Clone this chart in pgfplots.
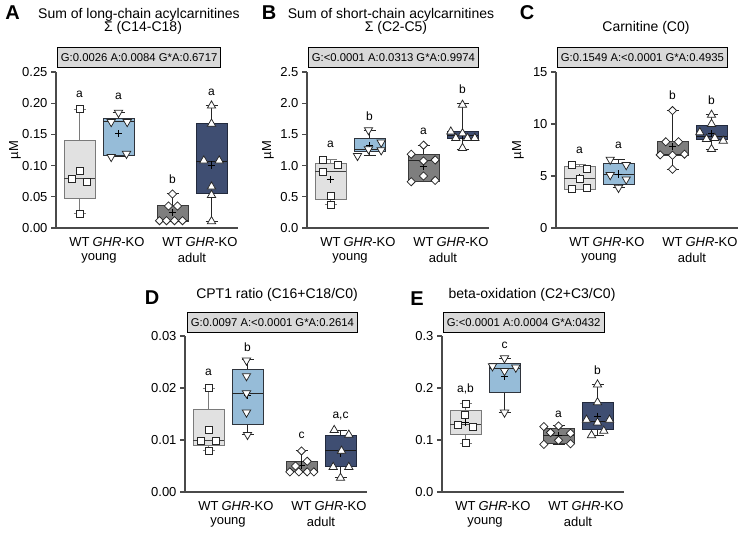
\documentclass[border=0pt]{standalone}
\usepackage{fontspec}
\setmainfont{Liberation Sans}
\usepackage{pgfplots}
\pgfplotsset{compat=1.18}

\definecolor{wtyfill}{HTML}{E1E1E1}
\definecolor{wtyedge}{HTML}{7A7A7A}
\definecolor{gyfill}{HTML}{96BCD8}
\definecolor{gyedge}{HTML}{2F343C}
\definecolor{wtafill}{HTML}{7E7E7E}
\definecolor{wtaedge}{HTML}{3A3A3A}
\definecolor{gafill}{HTML}{3F4E72}
\definecolor{gaedge}{HTML}{222A3D}
\definecolor{statfill}{HTML}{D9D9D9}
\definecolor{axgray}{HTML}{4A4A4A}

\newcommand{\ticksize}{\fontsize{13}{15}\selectfont}
\newcommand{\titlesize}{\fontsize{14}{16}\selectfont}
\newcommand{\statsize}{\fontsize{11.3}{13}\selectfont}
\newcommand{\lettersize}{\fontsize{12}{14}\selectfont}
\newcommand{\panelsize}{\fontsize{20}{22}\selectfont\bfseries}

\pgfplotsset{
  panel/.style={
    width=182pt, height=156pt, scale only axis,
    anchor=south west,
    xmin=0, xmax=182, ymin=0,
    axis x line=bottom, axis y line=left,
    axis line style={-, draw=axgray, line width=1.1pt},
    xtick={23.5,62.5,116.5,155.5},
    xticklabels={WT,\textit{GHR}-KO,WT,\textit{GHR}-KO},
    major x tick style={draw=none},
    xticklabel style={yshift=-1pt},
    tick align=outside,
    major tick length=5pt,
    major y tick style={draw=axgray, line width=1.1pt},
    tick label style={font=\ticksize},
    scaled y ticks=false,
    /pgf/number format/assume math mode=true,
    clip=false,
  },
  dec2/.style={yticklabel style={/pgf/number format/fixed,
    /pgf/number format/fixed zerofill, /pgf/number format/precision=2}},
  dec1/.style={yticklabel style={/pgf/number format/fixed,
    /pgf/number format/fixed zerofill, /pgf/number format/precision=1}},
  % box, whisker and median styles of the four groups
  wty box/.style={draw=wtyedge, fill=wtyfill, line width=1pt},
  wty whisk/.style={draw=wtyedge, line width=1pt},
  wty med/.style={draw=black!75, line width=1pt},
  gy box/.style={draw=gyedge, fill=gyfill, line width=1pt},
  gy whisk/.style={draw=black!85, line width=1pt},
  gy med/.style={draw=black!85, line width=1pt},
  wta box/.style={draw=wtaedge, fill=wtafill, line width=1pt},
  wta whisk/.style={draw=black!85, line width=1pt},
  wta med/.style={draw=black!85, line width=1pt},
  ga box/.style={draw=gaedge, fill=gafill, line width=1pt},
  ga whisk/.style={draw=black!85, line width=1pt},
  ga med/.style={draw=black!90, line width=1pt},
  ptsq/.style={only marks, mark=square*, mark size=3.5pt,
    mark options={fill=white, draw=black!85, line width=0.75pt}},
  ptdown/.style={only marks, mark=triangle*, mark size=4.8pt,
    mark options={rotate=180, fill=white, draw=black!85, line width=0.75pt}},
  ptdia/.style={only marks, mark=square*, mark size=2.9pt,
    mark options={rotate=45, fill=white, draw=black!85, line width=0.75pt}},
  ptup/.style={only marks, mark=triangle*, mark size=4.8pt,
    mark options={fill=white, draw=black!85, line width=0.75pt}},
  meanpt/.style={only marks, mark=+, mark size=3.6pt,
    mark options={draw=black, line width=0.8pt}},
}

% One box with whiskers: #1 group style, #2 lower whisker, #3 lower quartile,
% #4 median, #5 upper quartile, #6 upper whisker.  One macro per slot.
\newcommand{\boxone}[6]{%
  \addplot[#1 whisk, unbounded coords=jump] coordinates {(17.5,#6) (29.5,#6) (23.5,nan) (23.5,#6) (23.5,#5) (23.5,nan) (23.5,#3) (23.5,#2) (23.5,nan) (17.5,#2) (29.5,#2)};
  \addplot[#1 box] coordinates {(8,#3) (39,#3) (39,#5) (8,#5)} --cycle;
  \addplot[#1 med] coordinates {(8,#4) (39,#4)};
}
\newcommand{\boxtwo}[6]{%
  \addplot[#1 whisk, unbounded coords=jump] coordinates {(56.5,#6) (68.5,#6) (62.5,nan) (62.5,#6) (62.5,#5) (62.5,nan) (62.5,#3) (62.5,#2) (62.5,nan) (56.5,#2) (68.5,#2)};
  \addplot[#1 box] coordinates {(47,#3) (78,#3) (78,#5) (47,#5)} --cycle;
  \addplot[#1 med] coordinates {(47,#4) (78,#4)};
}
\newcommand{\boxthree}[6]{%
  \addplot[#1 whisk, unbounded coords=jump] coordinates {(110.5,#6) (122.5,#6) (116.5,nan) (116.5,#6) (116.5,#5) (116.5,nan) (116.5,#3) (116.5,#2) (116.5,nan) (110.5,#2) (122.5,#2)};
  \addplot[#1 box] coordinates {(101,#3) (132,#3) (132,#5) (101,#5)} --cycle;
  \addplot[#1 med] coordinates {(101,#4) (132,#4)};
}
\newcommand{\boxfour}[6]{%
  \addplot[#1 whisk, unbounded coords=jump] coordinates {(149.5,#6) (161.5,#6) (155.5,nan) (155.5,#6) (155.5,#5) (155.5,nan) (155.5,#3) (155.5,#2) (155.5,nan) (149.5,#2) (161.5,#2)};
  \addplot[#1 box] coordinates {(140,#3) (171,#3) (171,#5) (140,#5)} --cycle;
  \addplot[#1 med] coordinates {(140,#4) (171,#4)};
}

\begin{document}
\begin{tikzpicture}
\path[use as bounding box] (0,0) rectangle (738pt,533pt);

% ---------------- Panel A ----------------
\begin{axis}[panel, dec2, at={(56pt,305pt)}, ymax=0.25,
  ytick={0,0.05,0.10,0.15,0.20,0.25}]
\boxone{wty}{0.023}{0.048}{0.080}{0.1405}{0.1907}
\boxtwo{gy}{0.114}{0.1165}{0.170}{0.1758}{0.1848}
\boxthree{wta}{0.0112}{0.0112}{0.012}{0.0353}{0.0545}
\boxfour{ga}{0.0107}{0.0545}{0.1063}{0.1667}{0.196}
\addplot[meanpt] coordinates {(23.5,0.0916) (62.5,0.151) (116.5,0.0246) (155.5,0.101)};
\addplot[ptsq] coordinates {(23.5,0.1907) (23.5,0.0919) (15.8,0.0785) (30.8,0.0737) (23.5,0.023)};
\addplot[ptdown] coordinates {(62.5,0.1848) (55.2,0.170) (71.2,0.170) (55.2,0.114) (70.5,0.119)};
\addplot[ptdia] coordinates {(116.5,0.0545) (112.5,0.0353) (121.5,0.0353) (103.5,0.0118) (110.5,0.0118) (118.5,0.0118) (126.5,0.0118)};
\addplot[ptup] coordinates {(155.5,0.196) (155.5,0.167) (147.8,0.108) (163.2,0.108) (155.5,0.0662) (155.5,0.0528) (155.5,0.0107)};
\node[font=\lettersize] at (axis cs:23.5,0.2147) {a};
\node[font=\lettersize] at (axis cs:62.5,0.2115) {a};
\node[font=\lettersize] at (axis cs:116.5,0.0785) {b};
\node[font=\lettersize] at (axis cs:155.5,0.218) {a};
\node[font=\ticksize, yshift=-30pt] at (axis cs:43,0) {young};
\node[font=\ticksize, yshift=-30pt] at (axis cs:136,0) {adult};
\node[font=\ticksize, rotate=90] at (axis description cs:-0.225,0.5) {µM};
\end{axis}

% ---------------- Panel B ----------------
\begin{axis}[panel, dec1, at={(307pt,305pt)}, ymax=2.5,
  ytick={0,0.5,1.0,1.5,2.0,2.5}]
\boxone{wty}{0.376}{0.457}{0.898}{1.038}{1.091}
\boxtwo{gy}{1.156}{1.226}{1.263}{1.441}{1.57}
\boxthree{wta}{0.742}{0.742}{1.075}{1.172}{1.328}
\boxfour{ga}{1.263}{1.435}{1.478}{1.543}{1.989}
\addplot[meanpt] coordinates {(23.5,0.78) (62.5,1.32) (116.5,0.98) (155.5,1.49)};
\addplot[ptsq] coordinates {(15.5,1.091) (30.5,1.011) (15.5,0.903) (23.5,0.511) (23.5,0.376)};
\addplot[ptdown] coordinates {(61.5,1.57) (74.2,1.371) (61.5,1.263) (74.2,1.247) (50.5,1.156)};
\addplot[ptdia] coordinates {(116.5,1.328) (104.2,1.183) (116.5,1.075) (128.2,1.091) (116.5,0.833) (104.2,0.742) (128.2,0.763)};
\addplot[ptup] coordinates {(155.5,1.973) (143.8,1.543) (155.5,1.516) (148.8,1.441) (160.5,1.441) (167.8,1.441) (155.5,1.28)};
\node[font=\lettersize] at (axis cs:23.5,1.344) {a};
\node[font=\lettersize] at (axis cs:62.5,1.785) {b};
\node[font=\lettersize] at (axis cs:116.5,1.548) {a};
\node[font=\lettersize] at (axis cs:155.5,2.231) {b};
\node[font=\ticksize, yshift=-30pt] at (axis cs:43,0) {young};
\node[font=\ticksize, yshift=-30pt] at (axis cs:136,0) {adult};
\node[font=\ticksize, rotate=90] at (axis description cs:-0.214,0.5) {µM};
\end{axis}

% ---------------- Panel C ----------------
\begin{axis}[panel, at={(556pt,305pt)}, ymax=15,
  ytick={0,5,10,15}]
\boxone{wty}{3.74}{3.74}{4.75}{5.87}{6.06}
\boxtwo{gy}{3.87}{4.19}{5.16}{6.23}{6.58}
\boxthree{wta}{5.65}{6.94}{7.1}{8.29}{11.29}
\boxfour{ga}{7.58}{8.48}{8.77}{9.9}{10.87}
\addplot[meanpt] coordinates {(23.5,4.83) (62.5,5.2) (116.5,7.81) (155.5,9.05)};
\addplot[ptsq] coordinates {(15.8,6.06) (30.8,5.71) (23.5,4.75) (15.8,3.74) (30.8,3.87)};
\addplot[ptdown] coordinates {(54.2,6.58) (70.2,6.06) (54.2,5.1) (70.2,4.68) (62.5,3.87)};
\addplot[ptdia] coordinates {(116.5,11.29) (109.8,8.29) (122.5,8.29) (104.2,7.03) (116.5,7.0) (128.5,7.1) (116.5,5.65)};
\addplot[ptup] coordinates {(155.5,10.87) (155.5,10.0) (143.8,9.19) (150.5,8.55) (158.8,8.65) (167.2,8.39) (155.5,7.58)};
\node[font=\lettersize] at (axis cs:23.5,7.48) {a};
\node[font=\lettersize] at (axis cs:62.5,7.97) {a};
\node[font=\lettersize] at (axis cs:116.5,12.74) {b};
\node[font=\lettersize] at (axis cs:155.5,12.26) {b};
\node[font=\ticksize, yshift=-30pt] at (axis cs:43,0) {young};
\node[font=\ticksize, yshift=-30pt] at (axis cs:136,0) {adult};
\node[font=\ticksize, rotate=90] at (axis description cs:-0.209,0.5) {µM};
\end{axis}

% ---------------- Panel D ----------------
\begin{axis}[panel, dec2, at={(185pt,41pt)}, ymax=0.03,
  ytick={0,0.01,0.02,0.03}]
\boxone{wty}{0.0079}{0.00903}{0.00994}{0.0159}{0.020}
\boxtwo{gy}{0.011}{0.013}{0.019}{0.0235}{0.0254}
\boxthree{wta}{0.00387}{0.00387}{0.0040}{0.00587}{0.0079}
\boxfour{ga}{0.0027}{0.00497}{0.0079}{0.0108}{0.0119}
\addplot[meanpt] coordinates {(23.5,0.0119) (62.5,0.0185) (116.5,0.0052) (155.5,0.0075)};
\addplot[ptsq] coordinates {(23.5,0.020) (23.5,0.0119) (15.8,0.0099) (30.8,0.0099) (23.5,0.0079)};
\addplot[ptdown] coordinates {(61.5,0.0253) (61.5,0.0223) (61.5,0.019) (61.5,0.0153) (62.5,0.011)};
\addplot[ptdia] coordinates {(116.5,0.0079) (122.2,0.0059) (110.5,0.0050) (104.8,0.00387) (113.8,0.00387) (122.2,0.00387) (128.8,0.00387)};
\addplot[ptup] coordinates {(149.2,0.0119) (163.8,0.011) (156.5,0.0079) (148.2,0.0048) (163.8,0.0048) (155.5,0.0027)};
\node[font=\lettersize] at (axis cs:23.5,0.0230) {a};
\node[font=\lettersize] at (axis cs:62.5,0.0279) {b};
\node[font=\lettersize] at (axis cs:116.5,0.0109) {c};
\node[font=\lettersize] at (axis cs:155.5,0.01465) {a,c};
\node[font=\ticksize, yshift=-30pt] at (axis cs:43,0) {young};
\node[font=\ticksize, yshift=-30pt] at (axis cs:136,0) {adult};
\end{axis}

% ---------------- Panel E ----------------
\begin{axis}[panel, dec1, at={(442pt,41pt)}, ymax=0.3,
  ytick={0,0.1,0.2,0.3}]
\boxone{wty}{0.0942}{0.111}{0.129}{0.1574}{0.1697}
\boxtwo{gy}{0.1529}{0.1916}{0.238}{0.2471}{0.2574}
\boxthree{wta}{0.0916}{0.0935}{0.108}{0.122}{0.1271}
\boxfour{ga}{0.109}{0.1194}{0.1361}{0.1723}{0.2065}
\addplot[meanpt] coordinates {(23.5,0.133) (62.5,0.2226) (116.5,0.109) (155.5,0.1458)};
\addplot[ptsq] coordinates {(23.5,0.1697) (22.8,0.1477) (15.5,0.129) (30.5,0.1245) (23.5,0.0942)};
\addplot[ptdown] coordinates {(62.5,0.2574) (50.5,0.242) (73.8,0.2394) (62.5,0.2329) (62.5,0.1529)};
\addplot[ptdia] coordinates {(101.8,0.1258) (116.5,0.1271) (108.5,0.1142) (128.5,0.1129) (116.5,0.0994) (101.8,0.0916) (128.5,0.0929)};
\addplot[ptup] coordinates {(155.5,0.2065) (155.5,0.1723) (144.5,0.1387) (155.5,0.1335) (167.5,0.1387) (161.8,0.1174) (149.5,0.109)};
\node[font=\lettersize] at (axis cs:23.5,0.198) {a,b};
\node[font=\lettersize] at (axis cs:62.5,0.282) {c};
\node[font=\lettersize] at (axis cs:116.5,0.1497) {a};
\node[font=\lettersize] at (axis cs:155.5,0.2335) {b};
\node[font=\ticksize, yshift=-30pt] at (axis cs:43,0) {young};
\node[font=\ticksize, yshift=-30pt] at (axis cs:136,0) {adult};
\end{axis}

% ---------------- Test result boxes ----------------
\tikzset{statbox/.style={draw=black, line width=0.8pt, fill=statfill, anchor=south west,
  font=\statsize, inner xsep=3.5pt, minimum height=20pt}}
\node[statbox] at (57pt,465pt) {G:0.0026 A:0.0084 G*A:0.6717};
\node[statbox] at (308pt,465pt) {G:<0.0001 A:0.0313 G*A:0.9974};
\node[statbox] at (557pt,465pt) {G:0.1549 A:<0.0001 G*A:0.4935};
\node[statbox] at (187pt,200pt) {G:0.0097 A:<0.0001 G*A:0.2614};
\node[statbox] at (443pt,200pt) {G:<0.0001 A:0.0004 G*A:0432};

% ---------------- Panel letters and titles ----------------
\node[font=\panelsize] at (12.5pt,520pt) {A};
\node[font=\panelsize] at (269pt,520pt) {B};
\node[font=\panelsize] at (527pt,520pt) {C};
\node[font=\panelsize] at (152pt,235pt) {D};
\node[font=\panelsize] at (417pt,234pt) {E};

\node[font=\titlesize] at (139pt,518pt) {Sum of long-chain acylcarnitines};
\node[font=\titlesize] at (143pt,505pt) {Σ (C14-C18)};
\node[font=\titlesize] at (391pt,518pt) {Sum of short-chain acylcarnitines};
\node[font=\titlesize] at (396pt,505pt) {Σ (C2-C5)};
\node[font=\titlesize] at (646pt,505pt) {Carnitine (C0)};
\node[font=\titlesize] at (277pt,238pt) {CPT1 ratio (C16+C18/C0)};
\node[font=\titlesize] at (532pt,238pt) {beta-oxidation (C2+C3/C0)};
\end{tikzpicture}
\end{document}
